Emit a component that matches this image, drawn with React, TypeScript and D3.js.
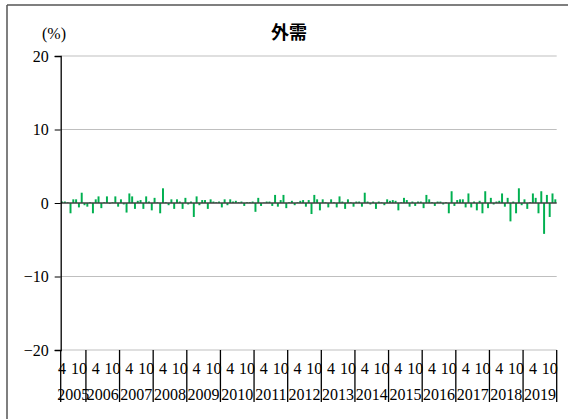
import React, { useEffect, useRef } from 'react';
import * as d3 from 'd3';

// monthly contribution of external demand (%), Apr 2005 - Dec 2019
const years = [2005, 2006, 2007, 2008, 2009, 2010, 2011, 2012, 2013, 2014, 2015, 2016, 2017, 2018, 2019];
const firstMonth = 4;
const monthTicks = [4, 10];
const yTicks = [20, 10, 0, -10, -20];

const values = [
  0.2, 0.2, 0.1, -1.4, 0.5, 0.5, -0.6, 1.4, -0.3,
  -0.5, 0.1, -1.4, 0.5, 0.9, -0.7, 0.1, 0.9, -0.1, 0.1, 0.9, -0.5,
  0.5, -0.2, -1.3, 1.3, 0.9, -0.8, 0.3, 0.4, -0.8, 0.9, 0.2, -1.0,
  0.7, 0.1, -1.4, 2.0, 0.1, -0.3, 0.5, -0.8, 0.5, 0.2, -0.8, 0.7,
  -0.2, 0.2, -1.9, 0.9, -0.3, 0.4, 0.4, -0.8, 0.5, 0.2, 0.1, 0.2,
  -0.6, 0.5, -0.3, 0.5, 0.2, 0.3, 0.1, 0.2, -0.4, 0.1, 0.1, 0.2,
  -1.2, 0.7, -0.4, 0.05, 0.2, 0.2, -0.4, 1.1, -0.5, 0.4, 1.1, -0.7,
  0.1, 0.3, -0.3, 0.1, 0.3, 0.4, -0.5, 0.4, -1.5, 1.1, 0.5, -1.0,
  0.5, 0.1, -0.6, 0.5, 0.1, -0.6, 0.9, 0.2, -0.8, 0.5, 0.1, -0.5,
  0.2, 0.2, -0.5, 1.4, 0.2, -0.2, 0.2, -0.8, 0.2, 0.1, -0.3, 0.5,
  0.3, 0.4, 0.3, -1.0, 0.1, 0.7, 0.4, -0.5, 0.2, -0.4, 0.2, 0.2,
  -0.7, 1.1, 0.5, 0.1, -0.4, 0.2, 0.2, -0.2, 0.1, -1.4, 1.6, -0.4,
  0.4, 0.5, 0.5, -0.6, 1.3, -0.6, 0.2, -1.0, 0.3, -1.4, 1.6, -0.7,
  0.7, -0.2, 0.2, 0.3, 1.3, -0.5, 0.7, -2.5, 0.2, -1.4, 2.0, -0.3,
  0.5, -0.8, 0.1, 1.3, 0.7, -1.4, 1.6, -4.2, 1.1, -1.9, 1.3, 0.5
];

const width = 568;
const height = 419;
const margin = { top: 56, right: 11.3, bottom: 69, left: 60.7 };
const serif = '"Liberation Serif", "DejaVu Serif", serif';

const App: React.FC = () => {
  const ref = useRef<SVGSVGElement>(null);

  useEffect(() => {
    if (!ref.current) return;
    document.body.style.margin = '0';

    const svg = d3.select(ref.current);
    svg.selectAll('*').remove();

    const months = years.flatMap(y =>
      d3.range(y === years[0] ? firstMonth : 1, 13).map(m => ({ year: y, month: m }))
    );
    const data = months.map((m, i) => ({ ...m, i, value: values[i] }));

    const x = d3.scaleBand<number>()
      .domain(data.map(d => d.i))
      .range([margin.left, width - margin.right])
      .paddingInner(0.3)
      .paddingOuter(0.15);
    const step = x.step();
    const edge = (i: number) => (x(i) as number) - step * 0.15;

    const y = d3.scaleLinear()
      .domain([-20, 20])
      .range([height - margin.bottom, margin.top]);

    // frame
    svg.append('line')
      .attr('x1', 7).attr('x2', width).attr('y1', 5).attr('y2', 5)
      .attr('stroke', '#555').attr('stroke-width', 1.5);
    svg.append('line')
      .attr('x1', 7).attr('x2', 7).attr('y1', 5).attr('y2', height)
      .attr('stroke', '#555').attr('stroke-width', 1.5);

    // gridlines
    svg.append('g')
      .selectAll('line')
      .data(yTicks.filter(t => t !== 0))
      .join('line')
      .attr('x1', margin.left).attr('x2', width - margin.right)
      .attr('y1', d => y(d)).attr('y2', d => y(d))
      .attr('stroke', '#bfbfbf').attr('stroke-width', 1);

    // bars
    svg.append('g')
      .selectAll('rect')
      .data(data)
      .join('rect')
      .attr('x', d => x(d.i) as number)
      .attr('width', x.bandwidth())
      .attr('y', d => y(Math.max(0, d.value)))
      .attr('height', d => Math.abs(y(d.value) - y(0)))
      .attr('fill', '#00b050');

    // zero line
    svg.append('line')
      .attr('x1', margin.left).attr('x2', width - margin.right)
      .attr('y1', y(0)).attr('y2', y(0))
      .attr('stroke', '#404040').attr('stroke-width', 1.3);

    // y axis
    const yAxis = svg.append('g')
      .attr('transform', `translate(${margin.left},0)`)
      .call(d3.axisLeft(y).tickValues(yTicks).tickSize(6).tickPadding(6)
        .tickFormat(d => (+d < 0 ? '\u2212' + Math.abs(+d) : String(d))));
    yAxis.select('.domain').attr('stroke', '#000').attr('stroke-width', 1.3);
    yAxis.selectAll('.tick line').attr('stroke', '#000');
    yAxis.selectAll('.tick text')
      .attr('fill', '#000')
      .style('font-family', serif)
      .style('font-size', '16px');

    // category separators under the plot
    const bottom = height - margin.bottom;
    const yearStarts = years.map(yr => data.findIndex(d => d.year === yr));
    const boundaries = [...yearStarts.map(edge), width - margin.right];
    svg.append('g')
      .selectAll('line')
      .data(boundaries)
      .join('line')
      .attr('x1', d => d).attr('x2', d => d)
      .attr('y1', bottom).attr('y2', bottom + 52)
      .attr('stroke', '#000').attr('stroke-width', 1.3);

    // month labels
    svg.append('g')
      .selectAll('text')
      .data(data.filter(d => monthTicks.includes(d.month)))
      .join('text')
      .attr('x', d => (x(d.i) as number) + x.bandwidth() / 2)
      .attr('y', bottom + 24)
      .attr('text-anchor', 'middle')
      .style('font-family', serif)
      .style('font-size', '16px')
      .text(d => String(d.month));

    // year labels
    svg.append('g')
      .selectAll('text')
      .data(years)
      .join('text')
      .attr('x', (d, k) => (boundaries[k] + boundaries[k + 1]) / 2)
      .attr('y', bottom + 50)
      .attr('text-anchor', 'middle')
      .style('font-family', serif)
      .style('font-size', '16px')
      .text(d => String(d));

    // unit and title
    svg.append('text')
      .attr('x', 54).attr('y', 39)
      .attr('text-anchor', 'middle')
      .style('font-family', serif)
      .style('font-size', '16px')
      .text('(%)');

    svg.append('text')
      .attr('x', 289).attr('y', 39)
      .attr('text-anchor', 'middle')
      .style('font-family', '"Noto Sans CJK JP", "Noto Sans CJK SC", sans-serif')
      .style('font-weight', 'bold')
      .style('font-size', '18px')
      .text('外需');
  }, []);

  return <svg ref={ref} width={width} height={height} style={{ display: 'block' }} />;
};

export default App;
